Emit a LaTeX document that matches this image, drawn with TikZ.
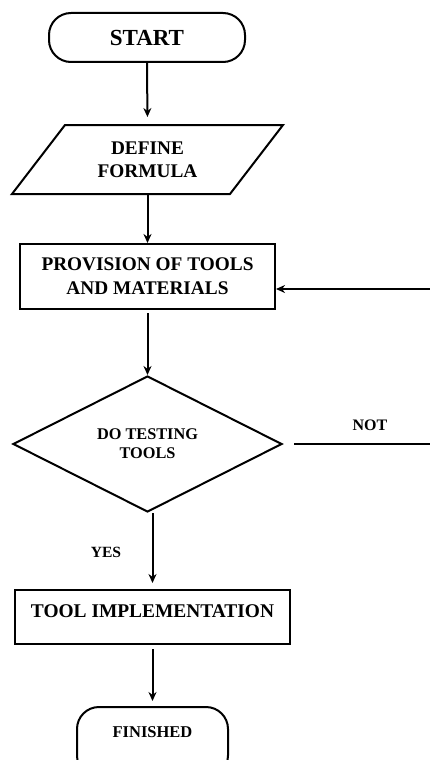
\documentclass[tikz,border=0pt]{standalone}
\usepackage{fontspec}
\setmainfont{Liberation Serif}
\usetikzlibrary{arrows.meta,shapes.geometric}

\begin{document}
\begin{tikzpicture}[x=1pt, y=-1pt, line width=2pt,
  every node/.style={font=\bfseries, align=center},
  term/.style={draw, rounded corners=22pt, inner sep=0pt},
  proc/.style={draw, inner sep=0pt},
  flow/.style={-{Stealth[length=9pt,width=8pt]}}]

\clip (0,0) rectangle (430,760);

\node[term, minimum width=196pt, minimum height=49pt,
  font=\bfseries\fontsize{23}{26}\selectfont] (start) at (147,37.5) {START};

\node[minimum width=163pt, minimum height=67pt, inner sep=0pt,
  font=\bfseries\fontsize{19.3}{23}\selectfont] (fmla) at (147.5,159.5) {DEFINE\\FORMULA};
\draw (fmla.north west) -- ([xshift=53pt]fmla.north east) -- (fmla.south east)
  -- ([xshift=-53pt]fmla.south west) -- cycle;

\node[proc, minimum width=255pt, minimum height=65pt,
  font=\bfseries\fontsize{19.3}{24}\selectfont] (prov) at (147.5,276.5)
  {PROVISION OF TOOLS\\AND MATERIALS};

\node[draw, diamond, minimum width=269pt, minimum height=136pt, inner sep=0pt,
  font=\bfseries\fontsize{16.3}{19}\selectfont] (test) at (147.5,444) {DO TESTING\\TOOLS};

\node[proc, anchor=north, minimum width=275pt, text height=27pt, text depth=27pt,
  font=\bfseries\fontsize{19.4}{23}\selectfont] (impl) at (152.5,589) {TOOL IMPLEMENTATION};

\node[term, anchor=north, minimum width=151pt, text height=30.5pt, text depth=40pt,
  font=\bfseries\fontsize{16.5}{20}\selectfont] (fin) at (152.5,706) {FINISHED};

\node[font=\bfseries\fontsize{16}{19}\selectfont] (no) at (370,425) {NOT};
\node[font=\bfseries\fontsize{15.6}{19}\selectfont] (yes) at (106,552) {YES};

\coordinate (notend) at (430,444);
\coordinate (back) at (430,289);

\draw[flow, shorten >=8pt] (start.south) -- (fmla.north);
\draw[flow] (fmla.south) -- (prov.north);
\draw[flow, shorten <=3pt] (prov.south) -- (test.north);
\draw[flow, shorten >=6pt] (test.south -| impl.north) -- (impl.north);
\draw[flow, shorten <=4pt, shorten >=5pt] (impl.south) -- (fin.north);
\draw ([xshift=11pt]test.east) -- (notend);
\draw[flow] (back) -- (back -| prov.east);

\end{tikzpicture}
\end{document}
